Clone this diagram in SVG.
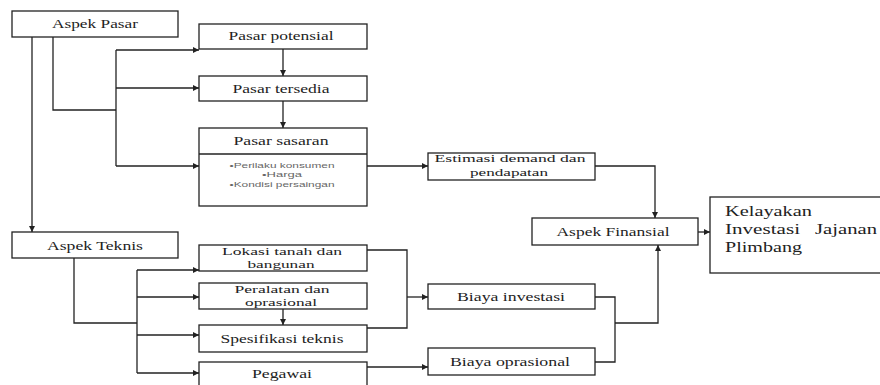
<svg xmlns="http://www.w3.org/2000/svg" width="880" height="385" viewBox="0 0 880 385">
<style>
.box{fill:#fff;stroke:#222;stroke-width:1.3}
.t{font-family:"Liberation Serif",serif;font-size:13px;fill:#222;text-anchor:middle}
.t2{font-family:"Liberation Serif",serif;font-size:11px;fill:#222;text-anchor:middle}
.s{font-family:"Liberation Sans",sans-serif;font-size:8px;fill:#666;text-anchor:middle}
.big{font-family:"Liberation Serif",serif;font-size:15px;fill:#222}
.c{fill:none;stroke:#222;stroke-width:1.3}
</style>
<defs>
<marker id="a" viewBox="0 0 10 10" refX="10" refY="5" markerWidth="6" markerHeight="6" orient="auto" markerUnits="userSpaceOnUse"><path d="M0,0L10,5L0,10z" fill="#222"/></marker>
</defs>
<rect width="880" height="385" fill="#fff"/>
<g id="connectors">
<path class="c" d="M32,37V232" marker-end="url(#a)"/>
<path class="c" d="M53,37V110H116"/>
<path class="c" d="M116,50V166"/>
<path class="c" d="M116,50H199" marker-end="url(#a)"/>
<path class="c" d="M116,88H199" marker-end="url(#a)"/>
<path class="c" d="M116,166H199" marker-end="url(#a)"/>
<path class="c" d="M283,49V76" marker-end="url(#a)"/>
<path class="c" d="M283,101V128" marker-end="url(#a)"/>
<path class="c" d="M367,166H428" marker-end="url(#a)"/>
<path class="c" d="M595,166H655V218" marker-end="url(#a)"/>
<path class="c" d="M698,232H710" marker-end="url(#a)"/>
<path class="c" d="M74,258V323H137"/>
<path class="c" d="M137,270V373"/>
<path class="c" d="M137,270H199" marker-end="url(#a)"/>
<path class="c" d="M137,297H199" marker-end="url(#a)"/>
<path class="c" d="M137,335H199" marker-end="url(#a)"/>
<path class="c" d="M137,373H199" marker-end="url(#a)"/>
<path class="c" d="M283,309V325" marker-end="url(#a)"/>
<path class="c" d="M367,250H407V328H367"/>
<path class="c" d="M407,297H428" marker-end="url(#a)"/>
<path class="c" d="M367,367H428" marker-end="url(#a)"/>
<path class="c" d="M595,297H615V362H595"/>
<path class="c" d="M615,323H658V245" marker-end="url(#a)"/>
</g>
<g id="aspek-pasar"><rect class="box" x="12" y="11" width="166" height="26"/><text class="t" x="95" y="28" textLength="86" lengthAdjust="spacingAndGlyphs">Aspek Pasar</text></g>
<g id="pasar-potensial"><rect class="box" x="199" y="24" width="168" height="25"/><text class="t" x="281" y="40" textLength="105" lengthAdjust="spacingAndGlyphs">Pasar potensial</text></g>
<g id="pasar-tersedia"><rect class="box" x="199" y="76" width="168" height="25"/><text class="t" x="281" y="93" textLength="97" lengthAdjust="spacingAndGlyphs">Pasar tersedia</text></g>
<g id="pasar-sasaran"><rect class="box" x="199" y="128" width="168" height="78"/><line class="c" x1="199" y1="154" x2="367" y2="154"/><text class="t" x="281" y="145" textLength="95" lengthAdjust="spacingAndGlyphs">Pasar sasaran</text>
<text class="s" x="282" y="168" textLength="105" lengthAdjust="spacingAndGlyphs">•Perilaku konsumen</text><text class="s" x="282" y="177" textLength="40" lengthAdjust="spacingAndGlyphs">•Harga</text><text class="s" x="282" y="187" textLength="105" lengthAdjust="spacingAndGlyphs">•Kondisi persaingan</text></g>
<g id="estimasi"><rect class="box" x="428" y="153" width="167" height="27"/><text class="t2" x="510" y="162" textLength="151" lengthAdjust="spacingAndGlyphs">Estimasi demand dan</text><text class="t2" x="509" y="176" textLength="78" lengthAdjust="spacingAndGlyphs">pendapatan</text></g>
<g id="aspek-finansial"><rect class="box" x="532" y="218" width="166" height="27"/><text class="t" x="613" y="236" textLength="113" lengthAdjust="spacingAndGlyphs">Aspek Finansial</text></g>
<g id="kelayakan"><rect class="box" x="710" y="197" width="172" height="76"/><text class="big" x="725" y="216" textLength="87" lengthAdjust="spacingAndGlyphs">Kelayakan</text><text class="big" x="725" y="234" textLength="75" lengthAdjust="spacingAndGlyphs">Investasi</text><text class="big" x="877" y="234" text-anchor="end" textLength="62" lengthAdjust="spacingAndGlyphs">Jajanan</text><text class="big" x="725" y="252" textLength="77" lengthAdjust="spacingAndGlyphs">Plimbang</text></g>
<g id="aspek-teknis"><rect class="box" x="12" y="232" width="166" height="26"/><text class="t" x="95" y="250" textLength="96" lengthAdjust="spacingAndGlyphs">Aspek Teknis</text></g>
<g id="lokasi"><rect class="box" x="199" y="245" width="168" height="26"/><text class="t2" x="282" y="255" textLength="120" lengthAdjust="spacingAndGlyphs">Lokasi tanah dan</text><text class="t2" x="281" y="268" textLength="67" lengthAdjust="spacingAndGlyphs">bangunan</text></g>
<g id="peralatan"><rect class="box" x="199" y="283" width="168" height="26"/><text class="t2" x="282" y="293" textLength="95" lengthAdjust="spacingAndGlyphs">Peralatan dan</text><text class="t2" x="281" y="306" textLength="72" lengthAdjust="spacingAndGlyphs">oprasional</text></g>
<g id="spesifikasi"><rect class="box" x="199" y="325" width="168" height="27"/><text class="t" x="282" y="343" textLength="123" lengthAdjust="spacingAndGlyphs">Spesifikasi teknis</text></g>
<g id="pegawai"><rect class="box" x="199" y="362" width="168" height="30"/><text class="t" x="282" y="378" textLength="60" lengthAdjust="spacingAndGlyphs">Pegawai</text></g>
<g id="biaya-investasi"><rect class="box" x="428" y="284" width="167" height="25"/><text class="t" x="511" y="301" textLength="108" lengthAdjust="spacingAndGlyphs">Biaya investasi</text></g>
<g id="biaya-oprasional"><rect class="box" x="428" y="348" width="167" height="27"/><text class="t" x="510" y="366" textLength="120" lengthAdjust="spacingAndGlyphs">Biaya oprasional</text></g>
</svg>
